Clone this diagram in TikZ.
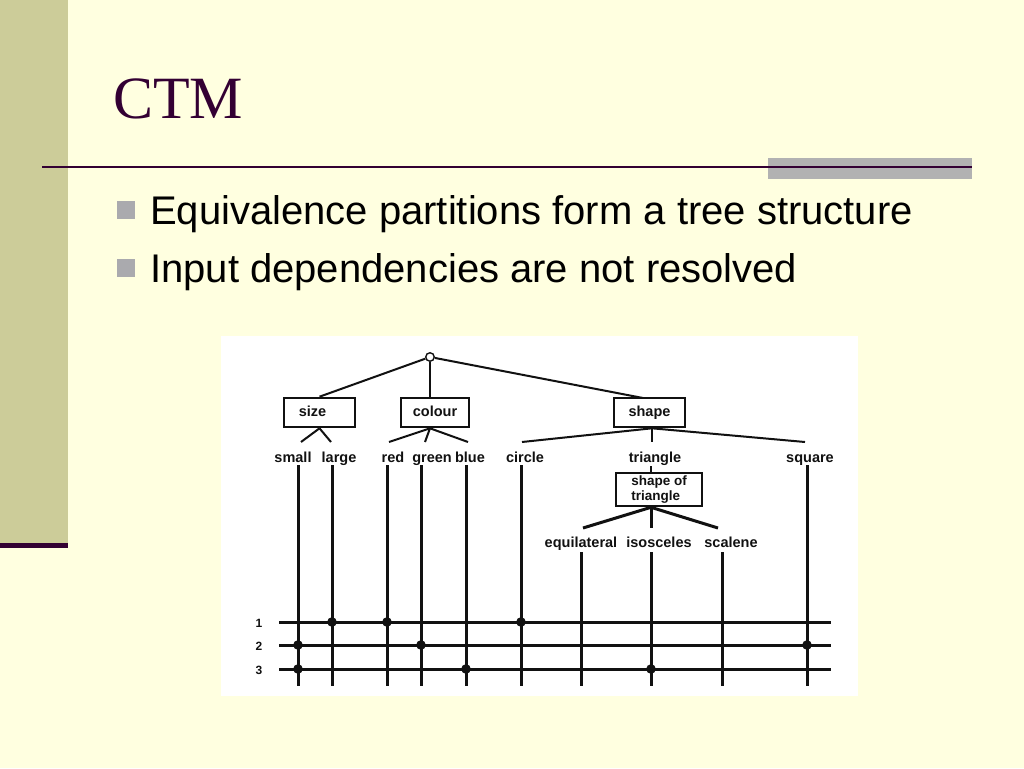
\documentclass[tikz,border=0pt]{standalone}
\usepackage{fontspec}
\usetikzlibrary{calc}
\newfontfamily\titlefont{Liberation Serif}
\newfontfamily\bodyfont{Liberation Sans}
\definecolor{bg}{HTML}{FFFFE0}
\definecolor{barc}{HTML}{CCCC99}
\definecolor{purp}{HTML}{330033}
\definecolor{grayc}{HTML}{B2B2B2}
\definecolor{bulc}{HTML}{AAAAAE}
\definecolor{ink}{HTML}{111111}
\begin{document}
\begin{tikzpicture}[x=1pt,y=-1pt,
  lbl/.style={font={\bodyfont\bfseries\fontsize{14.5}{16}\selectfont}, inner sep=0pt, text=ink, anchor=base},
  numl/.style={font={\bodyfont\bfseries\fontsize{12}{14}\selectfont}, inner sep=0pt, text=ink, anchor=base},
  box/.style={draw=ink, line width=2.6pt, inner sep=0pt, minimum height=29pt,
    text height=10.5pt, text depth=3pt,
    font={\bodyfont\bfseries\fontsize{14.5}{16}\selectfont}, text=ink},
  edge/.style={draw=ink, line width=2pt},
  thickedge/.style={draw=ink, line width=3pt},
  col/.style={draw=ink, line width=3pt},
  rootc/.style={circle, draw=ink, line width=1.4pt, inner sep=0pt, minimum size=8.5pt, fill=white}]
\useasboundingbox (0,0) rectangle (1024,768);
\fill[bg] (0,0) rectangle (1024,768);
% left bar
\fill[barc] (0,0) rectangle (68,543);
\fill[purp] (0,543) rectangle (68,548);
% title
\node[anchor=base west, inner sep=0pt, text=purp, font={\titlefont\fontsize{60}{62}\selectfont}] (title) at (113,118) {CTM};
% rule
\fill[grayc] (768,158) rectangle (972,179);
\draw[purp, line width=2pt] (42,167) -- (972,167);
% bullets
\fill[bulc] (117,201) rectangle (135,219);
\fill[bulc] (117,259) rectangle (135,277);
\node[anchor=base west, inner sep=0pt, font={\bodyfont\fontsize{40}{42}\selectfont}] (bul1) at (150,224) {Equivalence partitions form a tree structure};
\node[anchor=base west, inner sep=0pt, font={\bodyfont\fontsize{40}{42}\selectfont}] (bul2) at (150,282) {Input dependencies are not resolved};
% diagram panel
\fill[white] (221,336) rectangle (858,696);
% tree
\node[rootc] (root) at (430,357) {};
\node[box, minimum width=71pt] (size) at (319.5,412.5) {size\hspace*{14pt}};
\node[box, minimum width=68pt] (colour) at (435,412.5) {colour};
\node[box, minimum width=71pt] (shape) at (649.5,412.5) {shape};
\coordinate (shapetop) at (643,398);
\draw[edge] (root) -- (size.north);
\draw[edge] (root) -- (colour.north -| root);
\draw[edge] (root) -- (shapetop);
% first-level labels
\node[lbl] (lsmall) at (293,462) {small};
\node[lbl] (llarge) at (339,462) {large};
\node[lbl] (lred) at (393,462) {red};
\node[lbl] (lgreen) at (432,462) {green};
\node[lbl] (lblue) at (470,462) {blue};
\node[lbl] (lcircle) at (525,462) {circle};
\node[lbl] (ltri) at (655,462) {triangle};
\node[lbl] (lsquare) at (810,462) {square};
% edge ends
\coordinate (esmall) at (301,442);
\coordinate (elarge) at (331,442);
\coordinate (ered) at (389,442);
\coordinate (egreen) at (425,442);
\coordinate (eblue) at (468,442);
\coordinate (ecircle) at (522,442);
\coordinate (etri) at (652,442);
\coordinate (esquare) at (805,442);
\draw[edge] (size.south) -- (esmall);
\draw[edge] (size.south) -- (elarge);
\draw[edge] (colour.south -| root) -- (ered);
\draw[edge] (colour.south -| root) -- (egreen);
\draw[edge] (colour.south -| root) -- (eblue);
\draw[edge] (shape.south -| etri) -- (ecircle);
\draw[edge] (shape.south -| etri) -- (etri);
\draw[edge] (shape.south -| etri) -- (esquare);
% shape of triangle
\node[draw=ink, line width=2.6pt, inner sep=0pt, minimum width=86pt, minimum height=33pt, align=left, text=ink,
  font={\bodyfont\bfseries\fontsize{13.5}{15}\selectfont}] (sot) at (659,489.5) {shape of\\triangle};
\coordinate (ctri) at (651,466);
\draw[edge] (ctri) -- (sot.north -| ctri);
\node[lbl] (lequi) at (581,547) {equilateral};
\node[lbl] (liso) at (659,547) {isosceles};
\node[lbl] (lsca) at (731,547) {scalene};
\coordinate (eequi) at (583,528);
\coordinate (eiso) at (651,528);
\coordinate (esca) at (718,528);
\draw[thickedge] (sot.south -| ctri) -- (eequi);
\draw[thickedge] (sot.south -| ctri) -- (eiso);
\draw[thickedge] (sot.south -| ctri) -- (esca);
% columns
\foreach \n/\x/\t in {small/298/465, large/332/465, red/387/465, green/421/465, blue/466/465,
  circle/521/465, equi/581/552, iso/651/552, sca/722/552, square/807/465} {
  \coordinate (t\n) at (\x,\t);
  \coordinate (b\n) at (\x,686);
  \draw[col] (t\n) -- (b\n);
}
% rows
\coordinate (r1a) at (279,622); \coordinate (r1b) at (831,622);
\coordinate (r2a) at (279,645); \coordinate (r2b) at (831,645);
\coordinate (r3a) at (279,669); \coordinate (r3b) at (831,669);
\draw[col] (r1a) -- (r1b);
\draw[col] (r2a) -- (r2b);
\draw[col] (r3a) -- (r3b);
\node[numl] (n1) at (259,627) {1};
\node[numl] (n2) at (259,650) {2};
\node[numl] (n3) at (259,674) {3};
% dots
\foreach \c/\r in {large/r1a, red/r1a, circle/r1a, small/r2a, green/r2a, square/r2a, small/r3a, blue/r3a, iso/r3a} {
  \fill[ink] (b\c |- \r) circle (4.8pt);
}
\end{tikzpicture}
\end{document}
